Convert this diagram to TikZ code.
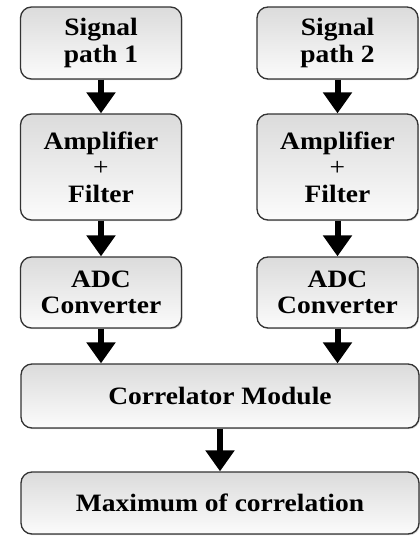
\documentclass[tikz,border=0pt]{standalone}
\usepackage{fontspec}
\setmainfont{Liberation Serif}[FakeStretch=1.1]
\usetikzlibrary{arrows.meta,shadows}

\begin{document}
\begin{tikzpicture}[x=1pt, y=1pt, >={Triangle[width=28pt,length=21pt]},
        block/.style={draw=black!80, line width=1.3pt, rounded corners=11pt,
            top color=gray!28, bottom color=gray!3, align=center, text=black,
            font=\fontsize{25}{26.5}\selectfont\bfseries,
            drop shadow={shadow xshift=1pt, shadow yshift=-1.2pt, opacity=0.35}},
        colbox/.style={block, minimum width=161pt},
        flow/.style={->, line width=6pt}]
        \useasboundingbox (0,0) rectangle (420,-536);

        \node [colbox, minimum height=72pt] (sig1) at (101,-43) {Signal\\path 1};
        \node [colbox, minimum height=72pt] (sig2) at (337.5,-43) {Signal\\path 2};

        \node [colbox, minimum height=106pt] (amp1) at (101,-167) {Amplifier\\{\mdseries +}\\Filter};
        \node [colbox, minimum height=106pt] (amp2) at (337.5,-167) {Amplifier\\{\mdseries +}\\Filter};

        \node [colbox, minimum height=71pt] (adc1) at (101,-292.5) {ADC\\Converter};
        \node [colbox, minimum height=71pt] (adc2) at (337.5,-292.5) {ADC\\Converter};

        \node [block, minimum width=398pt, minimum height=64pt] (corr) at (220,-396) {Correlator Module};
        \node [block, minimum width=398pt, minimum height=62pt] (maxc) at (220,-503) {Maximum of correlation};

        \draw [flow] (sig1) -- (amp1);
        \draw [flow] (sig2) -- (amp2);
        \draw [flow] (amp1) -- (adc1);
        \draw [flow] (amp2) -- (adc2);
        \draw [flow] (adc1.south) -- (adc1.south |- corr.north);
        \draw [flow] (adc2.south) -- (adc2.south |- corr.north);
        \draw [flow] (corr) -- (maxc);
    \end{tikzpicture}
\end{document}
